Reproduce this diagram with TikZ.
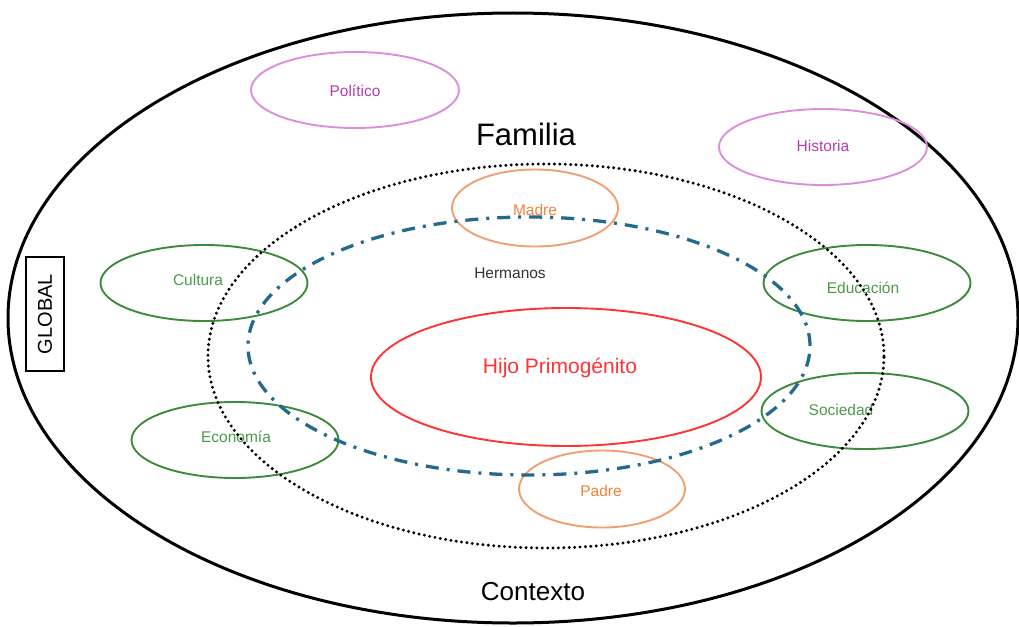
\documentclass[tikz,border=0pt]{standalone}
\usepackage{fontspec}
\setmainfont{Liberation Sans}
\usetikzlibrary{shapes.geometric}
\definecolor{violetline}{HTML}{DC8EDC}
\definecolor{violettext}{HTML}{B23DB2}
\definecolor{greenline}{HTML}{3C8A3C}
\definecolor{greentext}{HTML}{4A9A4A}
\definecolor{orangeline}{HTML}{F0A070}
\definecolor{orangetext}{HTML}{F0823C}
\definecolor{redline}{HTML}{FF3333}
\definecolor{bluedash}{HTML}{236A8C}
\tikzset{
  ell/.style={ellipse, draw, inner sep=0pt, line width=1.9pt},
  small/.style={font=\fontsize{15.5}{18}\selectfont},
  polbox/.style={ell, draw=violetline, minimum width=208pt, minimum height=76pt},
  grnbox/.style={ell, draw=greenline, minimum width=207pt, minimum height=76pt},
  orgbox/.style={ell, draw=orangeline, minimum width=166pt, minimum height=77pt},
  poltext/.style={small, text=violettext},
  grntext/.style={small, text=greentext},
  orgtext/.style={small, text=orangetext},
  dotring/.style={ell, draw=black, line width=3.3pt, line cap=round, dash pattern=on 0pt off 5.4pt},
  dashring/.style={ell, draw=bluedash, line width=3.3pt, dash pattern=on 13pt off 8pt on 3pt off 8pt},
}
\begin{document}
\begin{tikzpicture}[x=1pt,y=-1pt]
\useasboundingbox (0,0) rectangle (1019,626);
% outer
\node[ell, draw=black, line width=3pt, minimum width=1010pt, minimum height=610pt] (outer) at (513,318) {};
% texts of outer
\node[font=\fontsize{31}{36}\selectfont] (familia) at (526,134) {Familia};
\node[font=\fontsize{26}{30}\selectfont] (contexto) at (533,592) {Contexto};
\node[draw=black, line width=1.5pt, minimum width=114pt, minimum height=38pt, inner sep=0pt, rotate=90, font=\fontsize{20}{24}\selectfont] (global) at (45,314) {GLOBAL};
% violet
\node[polbox] (pol) at (355,90) {};
\node[poltext] (polt) at (355,91) {Político};
\node[polbox] (his) at (823,147) {};
\node[poltext] (hist) at (823,146) {Historia};
% red center
\node[ell, draw=redline, minimum width=390pt, minimum height=138pt] (hijo) at (566,377) {};
\node[font=\fontsize{21}{25}\selectfont, text=redline] (hijot) at (560,368) {Hijo Primogénito};
% hermanos
\node[small, text=black!80] (herm) at (510,273) {Hermanos};
% orange
\node[orgbox] (madre) at (535,208) {};
\node[orgtext] (madret) at (535,210) {Madre};
\node[orgbox] (padre) at (602,489) {};
\node[orgtext] (padret) at (601,491) {Padre};
% green
\node[grnbox] (cul) at (204,283) {};
\node[grntext] (cult) at (198,280) {Cultura};
\node[grnbox] (edu) at (867,283) {};
\node[grntext] (edut) at (863,288) {Educación};
\node[grnbox] (eco) at (235,440) {};
\node[grntext] (ecot) at (236,437) {Economía};
\node[grnbox] (soc) at (865,411) {};
\node[grntext] (soct) at (841,410) {Sociedad};
% rings
\node[dotring, minimum width=676pt, minimum height=384pt] (dots) at (546,356) {};
\node[dashring, minimum width=562pt, minimum height=258pt] (dashes) at (529,346) {};
\end{tikzpicture}
\end{document}
